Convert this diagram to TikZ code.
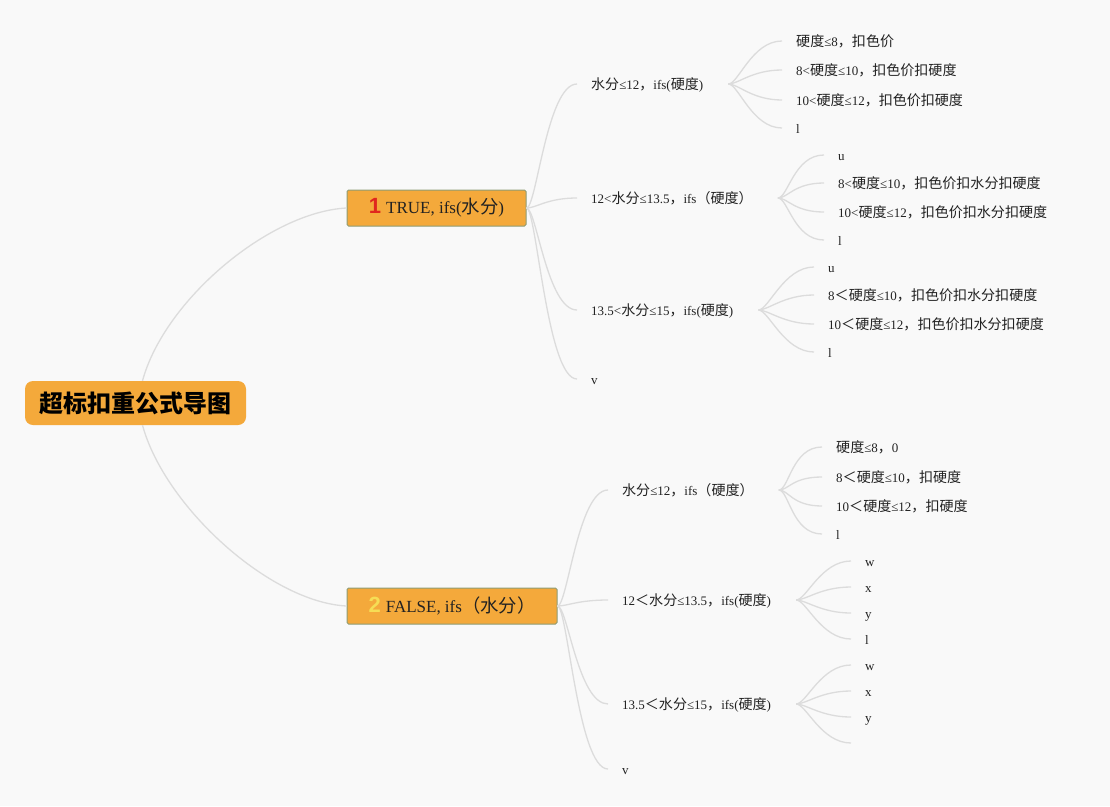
\documentclass[tikz,border=0pt]{standalone}
\usepackage{fontspec}
\setmainfont{Liberation Serif}
\newfontfamily\cjk[Scale=1.08]{Noto Sans CJK SC}
\newfontfamily\badgefont{Liberation Sans}
\usetikzlibrary{calc}
\usepackage{xcolor}
\definecolor{bgcol}{HTML}{F9F9F9}
\definecolor{nodeorange}{HTML}{F4A93B}
\definecolor{branchedge}{HTML}{8E9C74}
\definecolor{linkgray}{HTML}{DCDCDC}
\definecolor{inkcol}{HTML}{222222}
\definecolor{badgered}{HTML}{E0261E}
\definecolor{badgeyellow}{HTML}{F6DD55}
\newcommand\zh[1]{{\cjk #1}}
\newcommand\badge[2]{\textcolor{#1}{\badgefont\bfseries\fontsize{22}{22}\selectfont #2}}

\begin{document}
\begin{tikzpicture}[
  x=1pt, y=-1pt,
  root/.style={rectangle, fill=nodeorange, rounded corners=8pt, minimum width=221pt, minimum height=44pt, text=black, font=\cjk\bfseries\fontsize{22.2}{26}\selectfont},
  branch/.style={rectangle, draw=branchedge, line width=1pt, fill=nodeorange, rounded corners=1.5pt, minimum height=36pt, inner xsep=0pt, text=inkcol, font=\fontsize{17}{19}\selectfont},
  topic/.style={anchor=west, inner xsep=14pt, inner ysep=0pt, text height=12pt, text depth=2pt, text=inkcol, font=\fontsize{13}{15}\selectfont},
  link/.style={draw=linkgray, line width=1.3pt, to path={.. controls +(10,0) and +(-30,0) .. (\tikztotarget)}},
  fan/.style={link, to path={++(11,0) .. controls +(10,0) and +(-30,0) .. (\tikztotarget)}}
]
\fill[bgcol] (0,0) rectangle (1110,806);

% Root
\node[root] (root) at (135.5,403) {超标扣重公式导图};

% Main branches
\node[branch, minimum width=179pt] (true) at (436.5,208) {\badge{badgered}{1}\hspace{5pt}TRUE, ifs(\zh{水分})};
\node[branch, minimum width=210pt] (false) at (452,606) {\badge{badgeyellow}{2}\hspace{5pt}FALSE, ifs\zh{（水分）}};

\draw[link] ($(root.north)+(7,0)$) .. controls +(22,-81) and +(-77,4) .. (true.west);
\draw[link] ($(root.south)+(7,0)$) .. controls +(22,81) and +(-77,-4) .. (false.west);

% TRUE branch
\node[topic] (t1) at (577,84) {\zh{水分}≤12\zh{，}ifs(\zh{硬度})};
\node[topic] (t2) at (577,198) {12<\zh{水分}≤13.5\zh{，}ifs\zh{（硬度）}};
\node[topic] (t3) at (577,310) {13.5<\zh{水分}≤15\zh{，}ifs(\zh{硬度})};
\node[topic] (t4) at (577,379) {v};

\draw[link] (true.east) to (t1.west);
\draw[link] (true.east) to (t2.west);
\draw[link] (true.east) to (t3.west);
\draw[link] (true.east) to (t4.west);

\node[topic] (t1a) at (782,41) {\zh{硬度}≤8\zh{，扣色价}};
\node[topic] (t1b) at (782,70) {8<\zh{硬度}≤10\zh{，扣色价扣硬度}};
\node[topic] (t1c) at (782,100) {10<\zh{硬度}≤12\zh{，扣色价扣硬度}};
\node[topic] (t1d) at (782,128) {l};

\node[topic] (t2a) at (824,155) {u};
\node[topic] (t2b) at (824,183) {8<\zh{硬度}≤10\zh{，扣色价扣水分扣硬度}};
\node[topic] (t2c) at (824,212) {10<\zh{硬度}≤12\zh{，扣色价扣水分扣硬度}};
\node[topic] (t2d) at (824,240) {l};

\node[topic] (t3a) at (814,267) {u};
\node[topic] (t3b) at (814,295) {8\zh{＜硬度}≤10\zh{，扣色价扣水分扣硬度}};
\node[topic] (t3c) at (814,324) {10\zh{＜硬度}≤12\zh{，扣色价扣水分扣硬度}};
\node[topic] (t3d) at (814,352) {l};

\draw[fan] (t1.east) to (t1a.west);
\draw[fan] (t1.east) to (t1b.west);
\draw[fan] (t1.east) to (t1c.west);
\draw[fan] (t1.east) to (t1d.west);
\draw[fan] (t2.east) to (t2a.west);
\draw[fan] (t2.east) to (t2b.west);
\draw[fan] (t2.east) to (t2c.west);
\draw[fan] (t2.east) to (t2d.west);
\draw[fan] (t3.east) to (t3a.west);
\draw[fan] (t3.east) to (t3b.west);
\draw[fan] (t3.east) to (t3c.west);
\draw[fan] (t3.east) to (t3d.west);

% FALSE branch
\node[topic] (f1) at (608,490) {\zh{水分}≤12\zh{，}ifs\zh{（硬度）}};
\node[topic] (f2) at (608,600) {12\zh{＜水分}≤13.5\zh{，}ifs(\zh{硬度})};
\node[topic] (f3) at (608,704) {13.5\zh{＜水分}≤15\zh{，}ifs(\zh{硬度})};
\node[topic] (f4) at (608,769) {v};

\draw[link] (false.east) to (f1.west);
\draw[link] (false.east) to (f2.west);
\draw[link] (false.east) to (f3.west);
\draw[link] (false.east) to (f4.west);

\node[topic] (f1a) at (822,447) {\zh{硬度}≤8\zh{，}0};
\node[topic] (f1b) at (822,477) {8\zh{＜硬度}≤10\zh{，扣硬度}};
\node[topic] (f1c) at (822,506) {10\zh{＜硬度}≤12\zh{，扣硬度}};
\node[topic] (f1d) at (822,534) {l};

\node[topic] (f2a) at (851,561) {w};
\node[topic] (f2b) at (851,587) {x};
\node[topic] (f2c) at (851,613) {y};
\node[topic] (f2d) at (851,639) {l};

\node[topic] (f3a) at (851,665) {w};
\node[topic] (f3b) at (851,691) {x};
\node[topic] (f3c) at (851,717) {y};
\coordinate (f3d) at (851,743);

\draw[fan] (f1.east) to (f1a.west);
\draw[fan] (f1.east) to (f1b.west);
\draw[fan] (f1.east) to (f1c.west);
\draw[fan] (f1.east) to (f1d.west);
\draw[fan] (f2.east) to (f2a.west);
\draw[fan] (f2.east) to (f2b.west);
\draw[fan] (f2.east) to (f2c.west);
\draw[fan] (f2.east) to (f2d.west);
\draw[fan] (f3.east) to (f3a.west);
\draw[fan] (f3.east) to (f3b.west);
\draw[fan] (f3.east) to (f3c.west);
\draw[fan] (f3.east) to (f3d);

\end{tikzpicture}
\end{document}
